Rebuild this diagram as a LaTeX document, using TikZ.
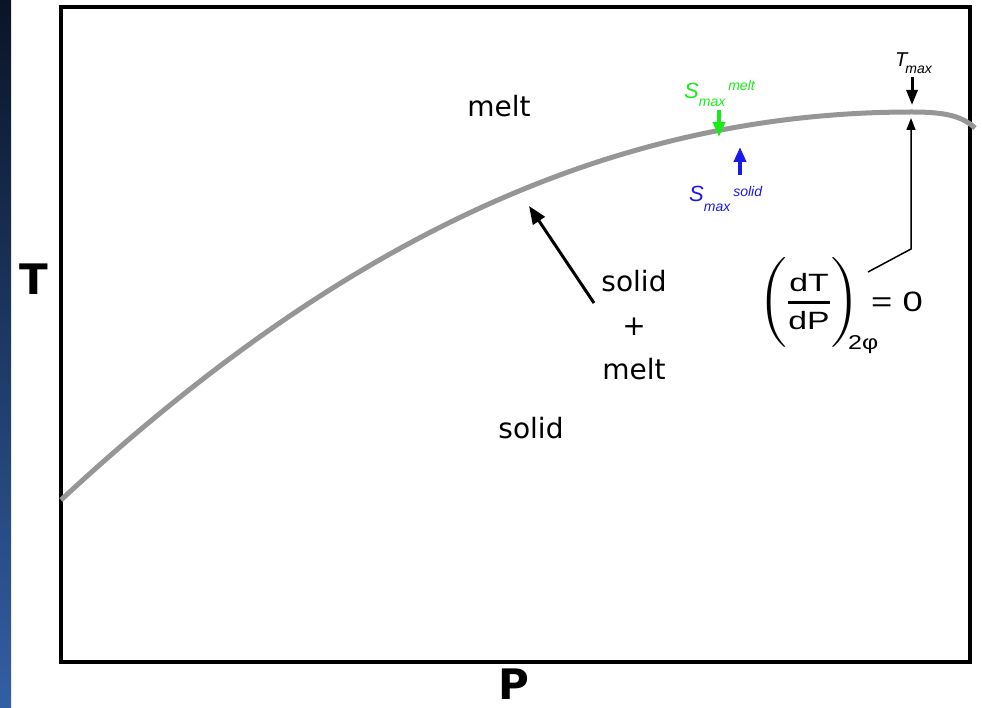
\documentclass[tikz,border=0pt]{standalone}
\usepackage{amsmath}
\usepackage{graphicx}
\usepackage{fontspec}
\setmainfont{DejaVu Sans}
\newfontfamily\arialfont{Liberation Sans}
\usepackage{xcolor}
\usetikzlibrary{arrows.meta,positioning}

\definecolor{meltgreen}{RGB}{25,235,25}
\definecolor{solidblue}{RGB}{25,25,235}
\definecolor{curvegray}{RGB}{150,150,150}
\definecolor{panelnavy}{RGB}{10,20,38}
\definecolor{panelblue}{RGB}{50,95,165}

\begin{document}
\begin{tikzpicture}[x=1pt, y=-1pt,
    region/.style={font=\fontsize{28}{44}\selectfont, inner sep=0pt},
    axislabel/.style={font=\fontsize{42}{42}\selectfont\bfseries, inner sep=0pt, anchor=base},
    entlabel/.style={font=\arialfont\itshape, inner sep=0pt, anchor=base west},
    formula/.style={font=\arialfont\fontsize{25}{25}\selectfont, inner sep=0pt},
    fatarrow/.style={-{Triangle[length=15pt,width=12pt]}, line width=4pt},
    tmaxarrow/.style={-{Triangle[length=15pt,width=11pt]}, line width=3pt},
    leadline/.style={-{Triangle[length=12pt,width=9pt]}, line width=1.5pt}]
    \useasboundingbox (0,0) rectangle (982,708);

    % Backdrop strip at the left edge
    \shade[top color=panelnavy, middle color=panelnavy!60!panelblue, bottom color=panelblue] (0,0) rectangle (11,708);

    % Frame and axis labels
    \draw[line width=3.5pt] (61,7) rectangle (970,662);
    \node[axislabel] (taxis) at (33.5,295) {T};
    \node[axislabel] (paxis) at (514,699) {P};

    % Two-phase boundary
    \draw[curvegray, line width=5pt] (61,500) .. controls (341,240) and (612,112) .. (912,112)
        .. controls (945,112) and (962,116) .. (975,128);

    % Regions
    \node[region, anchor=base] (melt) at (499,117) {melt};
    \node[region, anchor=base] (solid) at (531,438) {solid};
    \node[region, align=center] (mix) at (634,325) {solid\\+\\melt};
    \coordinate (mixtail) at (594,303);
    \coordinate (mixtip) at (529,206);
    \draw[-{Triangle[length=18pt,width=14pt]}, line width=3pt] (mixtail) -- (mixtip);

    % Entropy maxima
    \node[entlabel, meltgreen] (smelt) at (684,99) {{\fontsize{22}{22}\selectfont S}\raisebox{-8pt}{\fontsize{14}{14}\selectfont max}\hspace{3pt}\raisebox{8pt}{\fontsize{14}{14}\selectfont melt}};
    \coordinate (gtail) at (719,110);
    \coordinate (gtip) at (719,137);
    \draw[fatarrow, meltgreen] (gtail) -- (gtip);

    \node[entlabel, solidblue] (ssolid) at (689,202) {{\fontsize{22}{22}\selectfont S}\raisebox{-10pt}{\fontsize{14}{14}\selectfont max}\hspace{3pt}\raisebox{5pt}{\fontsize{14}{14}\selectfont solid}};
    \coordinate (btail) at (740,175);
    \coordinate (btip) at (740,147);
    \draw[fatarrow, solidblue] (btail) -- (btip);

    % Temperature maximum
    \node[entlabel] (tmax) at (895,67) {{\fontsize{20}{20}\selectfont T}\kern-2pt\raisebox{-7pt}{\fontsize{14}{14}\selectfont max}};
    \coordinate (ttail) at (912,77);
    \coordinate (ttip) at (912,105);
    \draw[tmaxarrow] (ttail) -- (ttip);

    % Slope condition
    \node[formula] (dtdp) at (809,302) {\scalebox{1.35}[1]{$\left(\rule[-40pt]{0pt}{93pt}\genfrac{}{}{2.5pt}{0}{\text{dT}}{\text{dP}}\right)$}};
    \node[formula, anchor=base west, font=\arialfont\fontsize{20}{20}\selectfont] (phase) at (848,349) {\scalebox{1.25}[1]{2φ}};
    \node[formula, anchor=base west, font=\arialfont\fontsize{28}{28}\selectfont] (zero) at (871,312) {\scalebox{1.3}[1]{= 0}};
    \coordinate (lead) at (868,272);
    \coordinate (bend) at (911,249);
    \coordinate (leadtip) at (911,118);
    \draw[leadline] (lead) -- (bend) -- (leadtip);
\end{tikzpicture}
\end{document}
